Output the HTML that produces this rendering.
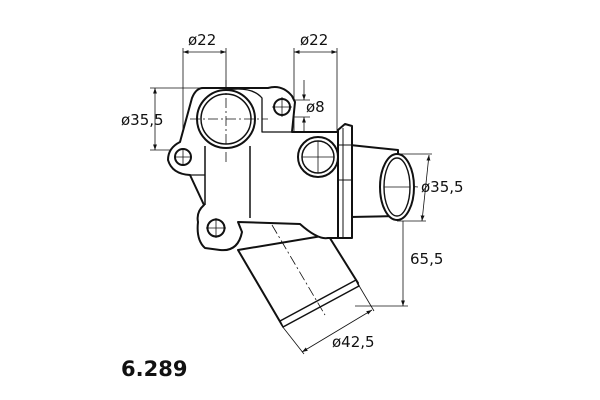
<!DOCTYPE html>
<html><head><meta charset="utf-8"><style>
html,body{margin:0;padding:0;background:#fff;}
svg{display:block;}
text{font-family:"DejaVu Sans","Liberation Sans",sans-serif;fill:#111;}
</style></head><body>
<svg width="600" height="400" viewBox="0 0 600 400" xmlns="http://www.w3.org/2000/svg">
<defs>
<marker id="a" viewBox="0 0 10 10" refX="10" refY="5" markerWidth="7" markerHeight="7" orient="auto-start-reverse"><path d="M0,1.5 L10,5 L0,8.5 z" fill="#111"/></marker>
</defs>
<g fill="none" stroke="#111" stroke-width="0.8">
<line x1="183" y1="48" x2="183" y2="160"/>
<line x1="226" y1="48" x2="226" y2="92"/>
<line x1="183" y1="52" x2="226" y2="52" marker-start="url(#a)" marker-end="url(#a)"/>
<line x1="294" y1="48" x2="294" y2="160"/>
<line x1="337" y1="48" x2="337" y2="132"/>
<line x1="294" y1="52" x2="337" y2="52" marker-start="url(#a)" marker-end="url(#a)"/>
<line x1="150" y1="88" x2="205" y2="88"/>
<line x1="150" y1="150" x2="190" y2="150"/>
<line x1="155" y1="88" x2="155" y2="150" marker-start="url(#a)" marker-end="url(#a)"/>
<line x1="290" y1="100" x2="310" y2="100"/>
<line x1="290" y1="117" x2="310" y2="117"/>
<line x1="304" y1="80" x2="304" y2="100" marker-end="url(#a)"/>
<line x1="304" y1="132" x2="304" y2="117" marker-end="url(#a)"/>
<line x1="397" y1="154" x2="432" y2="154"/>
<line x1="397" y1="221" x2="426" y2="221"/>
<line x1="429" y1="155" x2="422" y2="221" marker-start="url(#a)" marker-end="url(#a)"/>
<line x1="355" y1="306" x2="408" y2="306"/>
<line x1="403" y1="221" x2="403" y2="306" marker-end="url(#a)"/>
<line x1="282" y1="326" x2="304" y2="354"/>
<line x1="358" y1="284" x2="374" y2="311"/>
<line x1="302" y1="352" x2="372" y2="310" marker-start="url(#a)" marker-end="url(#a)"/>
<g stroke-dasharray="10,3,2,3">
<line x1="170" y1="157" x2="200" y2="157"/>
<line x1="298" y1="157" x2="340" y2="157"/>
<line x1="340" y1="180" x2="418" y2="187"/>
<line x1="200" y1="228" x2="236" y2="228"/>
</g>
</g>
<g fill="#fff" stroke="#111" stroke-width="2" stroke-linejoin="round">
<path d="M350,145 L398,150 L398,216 L350,217 Z"/>
<ellipse cx="397" cy="187" rx="17" ry="33"/>
<ellipse cx="397" cy="187" rx="13" ry="29" stroke-width="1.4"/>
<path d="M238,250 L282,325 L358,283 L328,235 Z"/>
<path d="M280,321 L356,280 L359,286 L283,327 Z" stroke-width="1.5"/>
<path d="M203,88 L268,88 Q282,84 292,96 L295,102 L292,132 L338,132 L338,238 L328,238 Q318,240 300,224 L238,222 L242,232 Q238,252 220,250 L205,248 Q196,240 198,222 Q196,212 204,205 L190,175 Q172,174 168,160 Q168,148 180,142 L192,98 Q196,88 203,88 Z"/>
<path d="M338,130 L345,124 L352,126 L352,238 L338,238 Z"/>
<line x1="343" y1="128" x2="343" y2="238" stroke-width="1"/>
<line x1="338" y1="145" x2="352" y2="145" stroke-width="1"/>
<line x1="338" y1="180" x2="352" y2="180" stroke-width="1"/>
<line x1="205" y1="146" x2="205" y2="205" stroke-width="1.5"/>
<line x1="250" y1="146" x2="250" y2="218" stroke-width="1.5"/>
<line x1="190" y1="175" x2="205" y2="175" stroke-width="1.2"/>
<path d="M226,90 Q252,86 262,98 L262,132 L292,132" fill="none" stroke-width="1.3"/>
<circle cx="226" cy="119" r="29"/>
<circle cx="226" cy="119" r="25" stroke-width="1.5"/>
<circle cx="282" cy="107" r="8"/>
<circle cx="183" cy="157" r="8"/>
<circle cx="216" cy="228" r="8.5"/>
<circle cx="318" cy="157" r="20"/>
<circle cx="318" cy="157" r="16" stroke-width="1.5"/>
</g>
<g fill="none" stroke="#111" stroke-width="0.8">
<line x1="226" y1="80" x2="226" y2="165" stroke-dasharray="10,3,2,3"/>
<line x1="190" y1="119" x2="268" y2="119" stroke-dasharray="10,3,2,3"/>
<line x1="272" y1="225" x2="325" y2="315" stroke-dasharray="10,3,2,3"/>
<line x1="302" y1="157" x2="334" y2="157"/>
<line x1="318" y1="141" x2="318" y2="173"/>
<line x1="272" y1="107" x2="292" y2="107"/>
<line x1="282" y1="97" x2="282" y2="117"/>
<line x1="174" y1="157" x2="192" y2="157"/>
<line x1="183" y1="148" x2="183" y2="166"/>
<line x1="206" y1="228" x2="226" y2="228"/>
<line x1="216" y1="218" x2="216" y2="238"/>
<line x1="384" y1="187" x2="410" y2="187"/>
</g>
<g font-size="15">
<text x="188" y="45">ø22</text>
<text x="300" y="45">ø22</text>
<text x="121" y="125">ø35,5</text>
<text x="306" y="112">ø8</text>
<text x="421" y="192">ø35,5</text>
<text x="410" y="264">65,5</text>
<text x="332" y="347">ø42,5</text>
</g>
<text x="121" y="376" font-size="21" font-weight="bold" font-family="Liberation Sans, sans-serif">6.289</text>
</svg>
</body></html>
